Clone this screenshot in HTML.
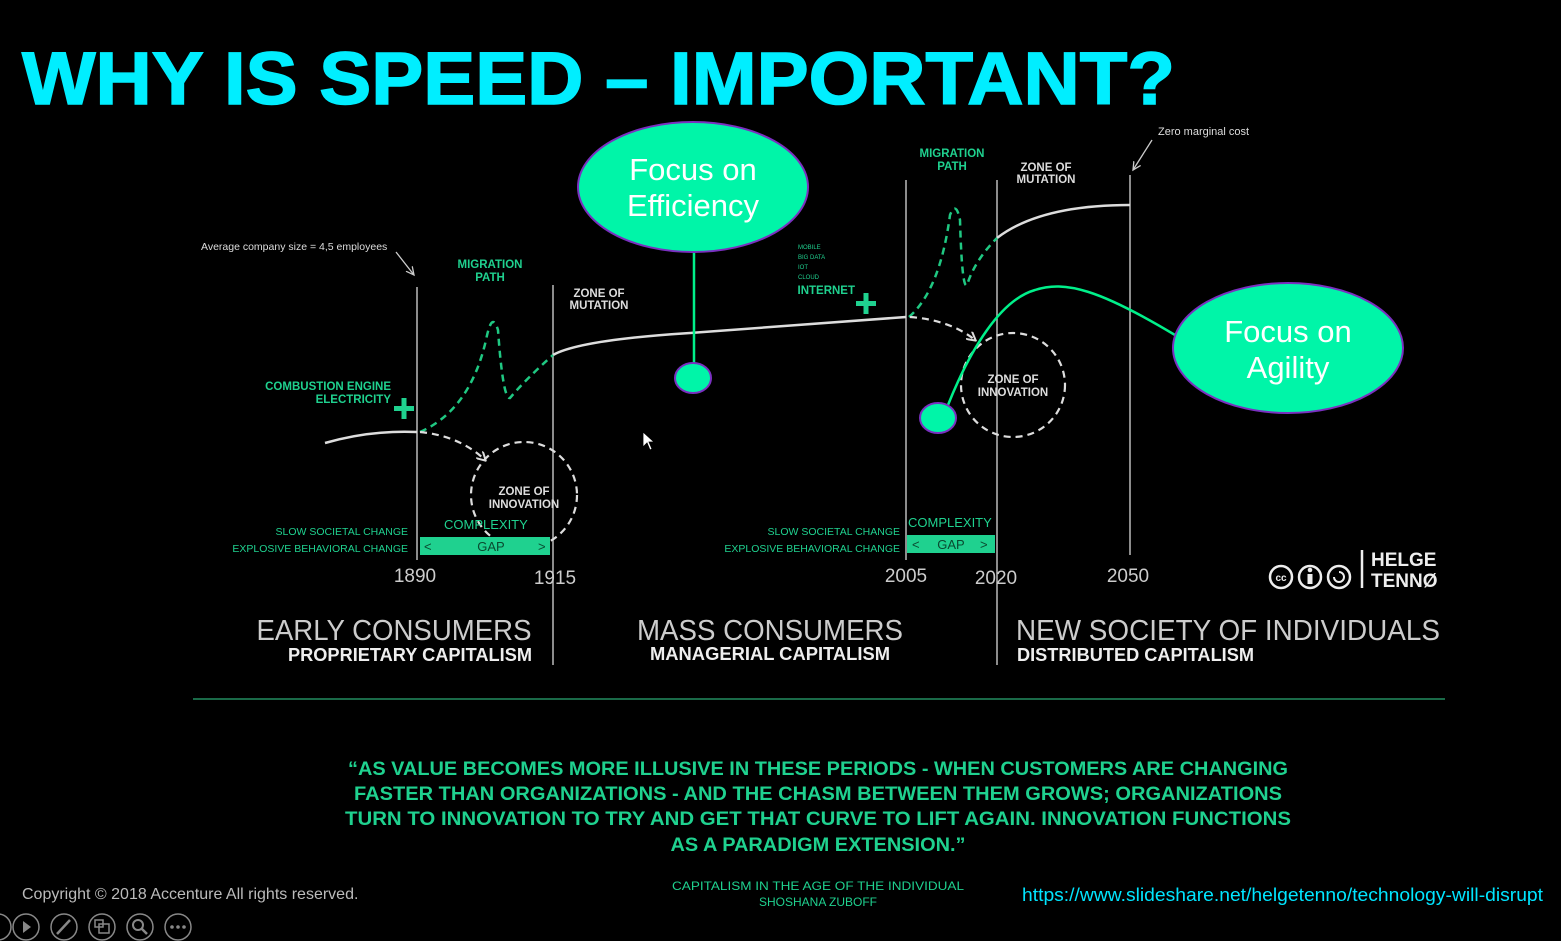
<!DOCTYPE html>
<html><head><meta charset="utf-8"><style>
html,body{margin:0;padding:0;background:#000;}
svg{display:block;}
text{font-family:"Liberation Sans",sans-serif;}
</style></head><body>
<svg width="1561" height="941" viewBox="0 0 1561 941" xmlns="http://www.w3.org/2000/svg">
<rect width="1561" height="941" fill="#000"/>
<defs>
<marker id="aw" markerWidth="10" markerHeight="10" refX="8" refY="5" orient="auto" markerUnits="userSpaceOnUse"><path d="M0,0 L9,5 L0,10" fill="none" stroke="#ddd" stroke-width="2"/></marker>
<marker id="ag" markerWidth="10" markerHeight="10" refX="8" refY="5" orient="auto" markerUnits="userSpaceOnUse"><path d="M0,1 L8,5 L0,9" fill="none" stroke="#ccc" stroke-width="1.3"/></marker>
</defs>
<!-- Title -->
<text x="22" y="104" font-size="74" font-weight="bold" fill="#00eeff" stroke="#00eeff" stroke-width="1.5" textLength="1153" lengthAdjust="spacingAndGlyphs">WHY IS SPEED – IMPORTANT?</text>

<g stroke="#bbb" stroke-width="1.5">
<line x1="417" y1="287" x2="417" y2="560"/>
<line x1="553" y1="285" x2="553" y2="665"/>
<line x1="906" y1="180" x2="906" y2="560"/>
<line x1="997" y1="180" x2="997" y2="665"/>
<line x1="1130" y1="175" x2="1130" y2="555"/>
</g>

<g fill="none" stroke="#ddd" stroke-width="2.5">
<path d="M325,443 Q370,430 417,432"/>
<path d="M553,355 Q580,340 690,333 L906,317"/>
<path d="M997,238 Q1040,205 1130,205"/>
</g>
<g fill="none" stroke="#1fc882" stroke-width="2.5" stroke-dasharray="7,5">
<path d="M420,432 Q470,410 486,340 Q492,310 498,330 Q503,400 510,398 Q525,380 553,355"/>
<path d="M909,317 Q940,290 950,215 Q956,200 960,220 Q962,290 967,285 Q975,260 997,238"/>
</g>
<g fill="none" stroke="#ddd" stroke-width="2.2" stroke-dasharray="7,5">
<path d="M420,432 Q460,436 485,460" marker-end="url(#aw)"/>
<circle cx="524" cy="495" r="53"/>
<path d="M910,317 Q950,320 975,340" marker-end="url(#aw)"/>
<circle cx="1013" cy="385" r="52"/>
</g>

<text x="201" y="250" font-size="10.5" fill="#ddd">Average company size = 4,5 employees</text>
<path d="M396,252 L414,275" stroke="#ccc" stroke-width="1.3" marker-end="url(#ag)"/>
<text x="1158" y="135" font-size="11" fill="#ddd">Zero marginal cost</text>
<path d="M1152,140 L1133,170" stroke="#ccc" stroke-width="1.3" marker-end="url(#ag)"/>

<g font-weight="bold" fill="#1fd18f" font-size="11.5">
<text x="490" y="268" text-anchor="middle">MIGRATION</text>
<text x="490" y="281" text-anchor="middle">PATH</text>
<text x="952" y="157" text-anchor="middle">MIGRATION</text>
<text x="952" y="170" text-anchor="middle">PATH</text>
<text x="391" y="390" text-anchor="end">COMBUSTION ENGINE</text>
<text x="391" y="403" text-anchor="end">ELECTRICITY</text>
<text x="855" y="294" text-anchor="end">INTERNET</text>
<text x="444" y="529" font-size="13" font-weight="normal">COMPLEXITY</text>
<text x="908" y="527" font-size="13" font-weight="normal">COMPLEXITY</text>
<text x="408" y="535" text-anchor="end" font-size="10.5" font-weight="normal">SLOW SOCIETAL CHANGE</text>
<text x="408" y="552" text-anchor="end" font-size="10.5" font-weight="normal">EXPLOSIVE BEHAVIORAL CHANGE</text>
<text x="900" y="535" text-anchor="end" font-size="10.5" font-weight="normal">SLOW SOCIETAL CHANGE</text>
<text x="900" y="552" text-anchor="end" font-size="10.5" font-weight="normal">EXPLOSIVE BEHAVIORAL CHANGE</text>
</g>
<g fill="#1fd18f" font-size="6">
<text x="798" y="249">MOBILE</text><text x="798" y="259">BIG DATA</text><text x="798" y="269">IOT</text><text x="798" y="279">CLOUD</text>
</g>
<g fill="#1fd18f">
<rect x="394" y="406" width="20" height="5"/><rect x="401.5" y="398" width="5" height="21"/>
<rect x="856" y="301" width="20" height="5"/><rect x="863.5" y="293" width="5" height="21"/>
<rect x="420" y="537" width="130" height="18"/>
<rect x="907" y="535" width="88" height="18"/>
</g>
<g font-size="13" style="fill:#0a4a30">
<text x="424" y="551">&lt;</text><text x="491" y="551" text-anchor="middle">GAP</text><text x="538" y="551">&gt;</text>
<text x="912" y="549">&lt;</text><text x="951" y="549" text-anchor="middle">GAP</text><text x="980" y="549">&gt;</text>
</g>
<g fill="#ddd" font-weight="bold" font-size="11.5" text-anchor="middle">
<text x="599" y="297">ZONE OF</text><text x="599" y="309">MUTATION</text>
<text x="1046" y="171">ZONE OF</text><text x="1046" y="183">MUTATION</text>
<text x="524" y="495">ZONE OF</text><text x="524" y="508">INNOVATION</text>
<text x="1013" y="383">ZONE OF</text><text x="1013" y="396">INNOVATION</text>
</g>
<g fill="#ccc" font-size="19" text-anchor="middle">
<text x="415" y="582">1890</text><text x="555" y="584">1915</text>
<text x="906" y="582">2005</text><text x="996" y="584">2020</text><text x="1128" y="582">2050</text>
</g>

<g fill="none" stroke="#eee" stroke-width="2.5">
<circle cx="1281" cy="577" r="11"/><circle cx="1310" cy="577" r="11"/><circle cx="1339" cy="577" r="11"/>
<line x1="1362" y1="550" x2="1362" y2="588"/>
</g>
<text x="1281" y="581" font-size="10" font-weight="bold" fill="#eee" text-anchor="middle">cc</text>
<rect x="1307.5" y="574" width="5" height="10" fill="#eee"/><circle cx="1310" cy="570" r="2.3" fill="#eee"/>
<path d="M1334,577 A5,5 0 1 0 1339,572" fill="none" stroke="#eee" stroke-width="2"/>
<g fill="#eee" font-weight="bold" font-size="19"><text x="1371" y="566">HELGE</text><text x="1371" y="587">TENNØ</text></g>

<g fill="#ccc" font-size="29" text-anchor="middle">
<text x="394" y="640" textLength="275" lengthAdjust="spacingAndGlyphs">EARLY CONSUMERS</text>
<text x="770" y="640" textLength="266" lengthAdjust="spacingAndGlyphs">MASS CONSUMERS</text>
<text x="1228" y="640" textLength="424" lengthAdjust="spacingAndGlyphs">NEW SOCIETY OF INDIVIDUALS</text>
</g>
<g fill="#eee" font-size="18" font-weight="bold">
<text x="288" y="661" textLength="244" lengthAdjust="spacingAndGlyphs">PROPRIETARY CAPITALISM</text>
<text x="650" y="660" textLength="240" lengthAdjust="spacingAndGlyphs">MANAGERIAL CAPITALISM</text>
<text x="1017" y="661" textLength="237" lengthAdjust="spacingAndGlyphs">DISTRIBUTED CAPITALISM</text>
</g>
<line x1="193" y1="699" x2="1445" y2="699" stroke="#1a6a48" stroke-width="2"/>

<g fill="#1fd18f" font-size="19" font-weight="bold" text-anchor="middle">
<text x="818" y="775" textLength="940" lengthAdjust="spacingAndGlyphs">“AS VALUE BECOMES MORE ILLUSIVE IN THESE PERIODS - WHEN CUSTOMERS ARE CHANGING</text>
<text x="818" y="800" textLength="928" lengthAdjust="spacingAndGlyphs">FASTER THAN ORGANIZATIONS - AND THE CHASM BETWEEN THEM GROWS; ORGANIZATIONS</text>
<text x="818" y="825" textLength="946" lengthAdjust="spacingAndGlyphs">TURN TO INNOVATION TO TRY AND GET THAT CURVE TO LIFT AGAIN. INNOVATION FUNCTIONS</text>
<text x="818" y="851" textLength="295" lengthAdjust="spacingAndGlyphs">AS A PARADIGM EXTENSION.”</text>
</g>
<g fill="#1fd18f" font-size="12" text-anchor="middle">
<text x="818" y="890" textLength="292" lengthAdjust="spacingAndGlyphs">CAPITALISM IN THE AGE OF THE INDIVIDUAL</text>
<text x="818" y="906">SHOSHANA ZUBOFF</text>
</g>

<text x="22" y="899" font-size="16" fill="#bbb">Copyright © 2018 Accenture  All rights reserved.</text>
<text x="1022" y="901" font-size="18" fill="#00e5ff" textLength="521" lengthAdjust="spacingAndGlyphs">https://www.slideshare.net/helgetenno/technology-will-disrupt</text>
<g fill="none" stroke="#888" stroke-width="1.5">
<circle cx="-2" cy="927" r="13"/>
<circle cx="26" cy="927" r="13"/><circle cx="64" cy="927" r="13"/><circle cx="102" cy="927" r="13"/><circle cx="140" cy="927" r="13"/><circle cx="178" cy="927" r="13"/>
<line x1="57" y1="934" x2="70" y2="920" stroke-width="2.5"/>
<rect x="95" y="920" width="8" height="7"/><rect x="99" y="924" width="10" height="9"/>
<circle cx="138" cy="925" r="5" stroke-width="2"/><line x1="142" y1="929" x2="147" y2="934" stroke-width="2.5"/>
</g>
<path d="M23,921 L31,927 L23,933Z" fill="#888"/>
<g fill="#888"><circle cx="172" cy="927" r="1.8"/><circle cx="178" cy="927" r="1.8"/><circle cx="184" cy="927" r="1.8"/></g>

<line x1="694" y1="253" x2="694" y2="365" stroke="#00f08a" stroke-width="2.5"/>
<path d="M1175,335 C1100,290 1065,280 1035,290 C1000,300 970,350 948,405" fill="none" stroke="#00f08a" stroke-width="2.5"/>
<g fill="#00f5a8" stroke="#7a30c0" stroke-width="2">
<ellipse cx="693" cy="187" rx="115" ry="65"/>
<ellipse cx="1288" cy="348" rx="115" ry="65"/>
<ellipse cx="693" cy="378" rx="18" ry="15"/>
<ellipse cx="938" cy="418" rx="18" ry="15"/>
</g>
<g fill="#fff" font-size="31" text-anchor="middle">
<text x="693" y="180">Focus on</text><text x="693" y="216">Efficiency</text>
<text x="1288" y="342">Focus on</text><text x="1288" y="378">Agility</text>
</g>
<path d="M643,432 L643,447 L647,443 L650,450 L652,449 L649,442 L654,442Z" fill="#fff" stroke="#000" stroke-width="0.8"/>
</svg>
</body></html>
